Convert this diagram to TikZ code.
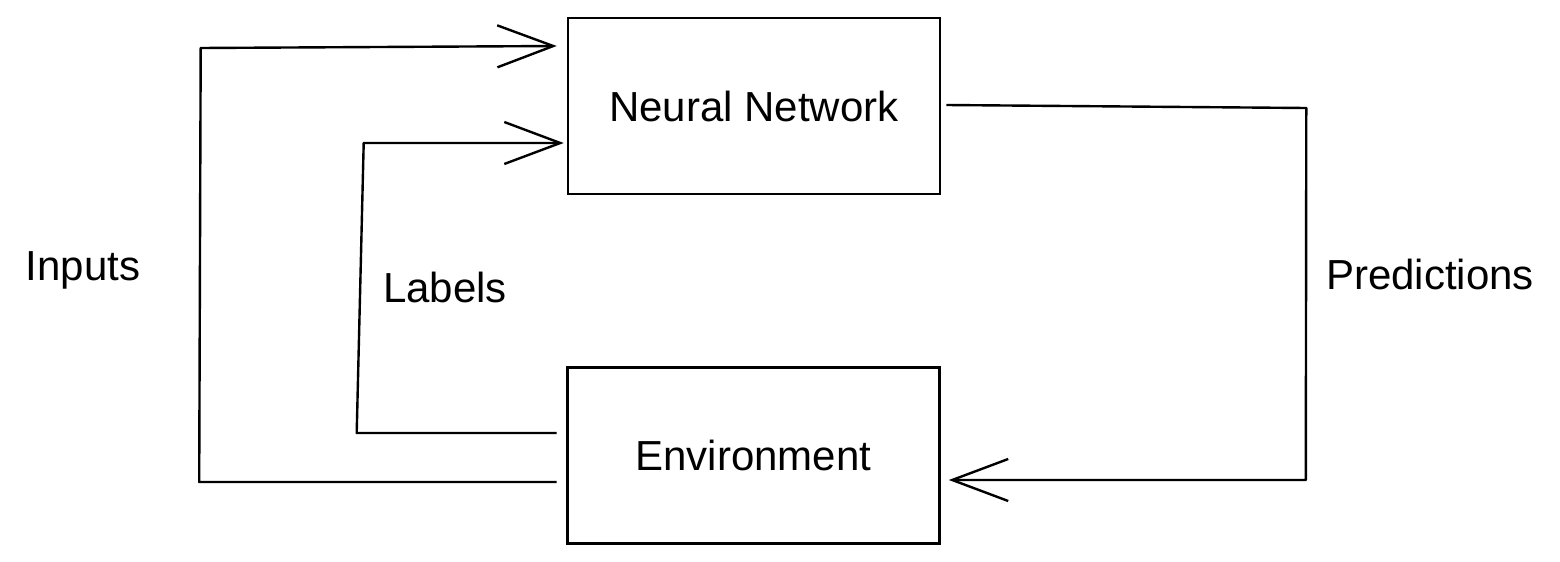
\documentclass[tikz,border=0pt]{standalone}
\usepackage{fontspec}
\setmainfont{Liberation Sans}
\usetikzlibrary{arrows.meta,calc}
\begin{document}
\begin{tikzpicture}[x=0.5pt,y=-0.5pt,
  box/.style={draw=black,line width=1.3pt,minimum width=186pt,minimum height=88pt,inner sep=0pt,font=\fontsize{21}{25}\selectfont},
  lbl/.style={font=\fontsize{21}{25}\selectfont,inner sep=0pt},
  conn/.style={draw=black,line width=1.2pt,line join=round},
  arr/.style={conn,-{Straight Barb[length=28pt,width=21pt,line width=1.2pt]}}]
\useasboundingbox (0,0) rectangle (1560,562);
\node[box] (nn) at (754,106) {Neural Network};
\node[box] (env) at (753.5,455.5) {Environment};
\node[lbl] (inputs) at (83,270) {Inputs};
\node[lbl] (labels) at (445,287) {Labels};
\node[lbl] (pred) at (1430,274) {Predictions};
% Inputs loop
\draw[arr] ($(env.west)+(-9.5,26.5)$) -- ($(env.west)+(-367,26.5)$)
  -- ($(nn.west)+(-366,-58)$) -- ($(nn.west)+(-10,-60)$);
% Labels loop
\draw[arr] ($(env.west)+(-9.5,-22.5)$) -- ($(env.west)+(-209.5,-22.5)$)
  -- ($(nn.west)+(-203,37)$) -- ($(nn.west)+(-3,37)$);
% Predictions loop
\draw[arr] ($(nn.east)+(5,-1)$) -- ($(nn.east)+(365,2)$)
  -- ($(env.east)+(365,24.5)$) -- ($(env.east)+(8,24.5)$);
\end{tikzpicture}
\end{document}
